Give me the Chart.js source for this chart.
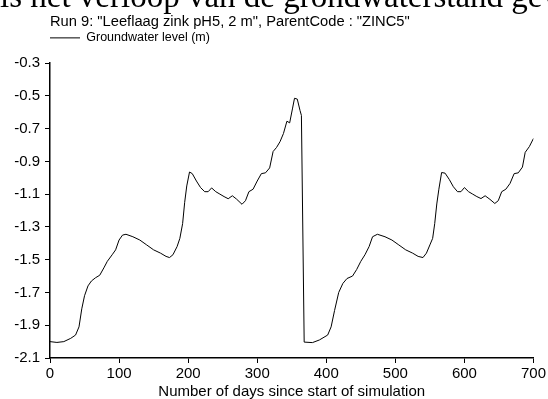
<!DOCTYPE html>
<html>
<head>
<meta charset="utf-8">
<script src="https://cdn.jsdelivr.net/npm/chart.js@4/dist/chart.umd.min.js"></script>
<style>
  html, body { margin: 0; padding: 0; background: #fff; }
  #wrap { position: relative; width: 548px; height: 399px; overflow: hidden; }
  #doc { position: absolute; left: 0; top: -20px; font-family: "Liberation Serif", "Times New Roman", serif; font-size: 33px; line-height: 33px; white-space: nowrap; color: #000; }
  canvas { position: absolute; left: 0; top: 0; }
</style>
</head>
<body>
<div id="wrap">
  <canvas id="c" width="548" height="399"></canvas>
  <div id="doc">is het verloop van de grondwaterstand gevisualiseerd</div>
</div>
<script>
const chartTitle = 'Run 9: "Leeflaag zink pH5, 2 m", ParentCode : "ZINC5"';
const seriesName = 'Groundwater level (m)';
const xAxisTitle = 'Number of days since start of simulation';
const yTicks = [-2.1, -1.9, -1.7, -1.5, -1.3, -1.1, -0.9, -0.7, -0.5, -0.3];
const xTicks = [0, 100, 200, 300, 400, 500, 600, 700];

const days = [
  0, 10, 20, 30, 37, 42, 46, 50, 55, 60, 66, 72, 78, 83, 90, 95, 100, 105, 110, 120,
  130, 140, 150, 160, 168, 173, 178, 184, 188, 192, 195, 198, 202, 206, 212, 218, 224, 229, 234, 240,
  246, 252, 258, 264, 270, 278, 283, 288, 294, 300, 306, 312, 318, 323, 328, 333, 338, 343, 347, 351,
  354, 358, 362, 364, 368, 380, 390, 402, 407, 412, 418, 424, 430, 438, 444, 450, 456, 462, 467, 474,
  485, 495, 505, 515, 525, 533, 540, 545, 550, 554, 557, 560, 563, 567, 572, 578, 584, 590, 595, 600,
  606, 612, 618, 624, 630, 637, 644, 649, 654, 660, 666, 672, 678, 684, 688, 694, 700
];
const levels = [
  -2.00, -2.005, -2.00, -1.98, -1.96, -1.91, -1.80, -1.72, -1.66, -1.63, -1.61, -1.595, -1.55, -1.51, -1.47, -1.44, -1.38, -1.35, -1.345, -1.36,
  -1.38, -1.41, -1.44, -1.46, -1.48, -1.487, -1.47, -1.42, -1.37, -1.28, -1.15, -1.05, -0.965, -0.975, -1.02, -1.06, -1.085, -1.085, -1.062, -1.085,
  -1.10, -1.115, -1.128, -1.11, -1.13, -1.162, -1.14, -1.085, -1.07, -1.02, -0.975, -0.97, -0.94, -0.84, -0.815, -0.78, -0.73, -0.655, -0.665, -0.58,
  -0.515, -0.52, -0.59, -0.62, -2.003, -2.006, -1.99, -1.96, -1.91, -1.81, -1.70, -1.645, -1.615, -1.60, -1.56, -1.51, -1.47, -1.42, -1.36, -1.345,
  -1.36, -1.38, -1.41, -1.44, -1.46, -1.48, -1.487, -1.46, -1.41, -1.37, -1.28, -1.16, -1.07, -0.968, -0.972, -1.01, -1.055, -1.085, -1.085, -1.06,
  -1.085, -1.10, -1.115, -1.127, -1.11, -1.132, -1.157, -1.14, -1.085, -1.07, -1.035, -0.975, -0.97, -0.935, -0.845, -0.81, -0.76
];

const points = days.map((d, i) => ({ x: d, y: levels[i] }));
const FONT = 'Arial, "Liberation Sans", Helvetica, sans-serif';

// Give the legend box extra room below its single row so the plot starts lower.
const legendSpacer = {
  id: 'legendSpacer',
  beforeUpdate(chart) {
    const lg = chart.legend;
    if (lg && !lg._spaced) {
      const fit = lg.fit.bind(lg);
      lg.fit = function () { fit(); this.height = 31.4; };
      lg._spaced = true;
    }
  }
};

new Chart(document.getElementById('c'), {
  type: 'scatter',
  data: {
    datasets: [{
      label: seriesName,
      data: points,
      showLine: true,
      borderColor: '#000',
      backgroundColor: '#000',
      borderWidth: 1,
      pointRadius: 0,
      tension: 0
    }]
  },
  plugins: [legendSpacer],
  options: {
    responsive: false,
    animation: false,
    devicePixelRatio: 1,
    layout: { padding: { left: 0, right: 14, top: 13, bottom: 0 } },
    plugins: {
      tooltip: { enabled: false },
      title: {
        display: true,
        text: chartTitle,
        align: 'start',
        fullSize: false,
        color: '#000',
        font: { family: FONT, size: 14.7, weight: 'normal' },
        padding: { top: 0, bottom: 1 }
      },
      legend: {
        display: true,
        align: 'start',
        fullSize: false,
        labels: {
          color: '#000',
          font: { family: FONT, size: 12.5 },
          usePointStyle: true,
          pointStyle: 'line',
          pointStyleWidth: 30,
          boxHeight: 1,
          padding: 0
        }
      }
    },
    scales: {
      x: {
        type: 'linear',
        min: 0,
        max: 700,
        afterFit: s => { s.height = 41; },
        afterBuildTicks: s => { s.ticks = xTicks.map(v => ({ value: v })); },
        ticks: { color: '#000', font: { family: FONT, size: 15 }, padding: 2, maxRotation: 0 },
        grid: { drawOnChartArea: false, drawTicks: true, tickLength: 5, color: '#000' },
        border: { color: '#000', width: 1.5 },
        title: { display: true, text: xAxisTitle, color: '#000', font: { family: FONT, size: 15 }, padding: { top: 0, bottom: -2 } }
      },
      y: {
        type: 'linear',
        min: -2.1,
        max: -0.3,
        afterFit: s => { s.width = 50; s.paddingTop = 63; },
        afterBuildTicks: s => { s.ticks = yTicks.map(v => ({ value: v })); },
        ticks: { color: '#000', font: { family: FONT, size: 15 }, padding: 5, callback: v => v.toFixed(1) },
        grid: { drawOnChartArea: false, drawTicks: true, tickLength: 5, color: '#000' },
        border: { color: '#000', width: 1.5 }
      }
    }
  }
});
</script>
</body>
</html>
